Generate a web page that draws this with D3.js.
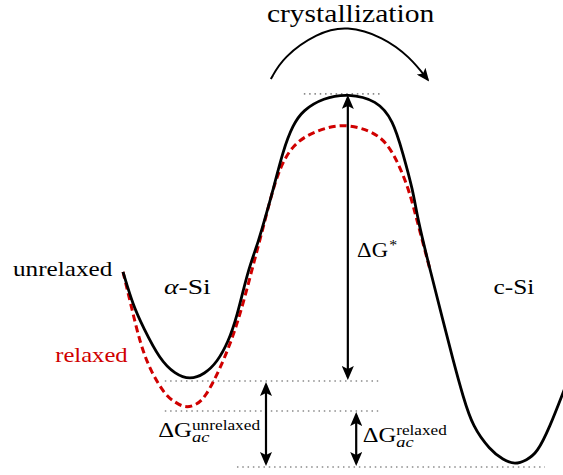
<!DOCTYPE html>
<html>
<head>
<meta charset="utf-8">
<script src="https://cdn.jsdelivr.net/npm/d3@7"></script>
<style>
body{margin:0;background:#fff;}
</style>
</head>
<body>
<script>
//svg size
var w = 563, h = 475;
var serif = "'Liberation Serif'";

//reaction coordinate (0..100) vs free energy (arb. units, 0 = c-Si minimum)
var unrelaxedCurve = [
    [0,52.2],[2.27,43.2],[4.55,37.3],[8.41,28.4],[11.8,24.6],[15.2,23.0],[18.6,24.6],
    [21.4,27.8],[23.9,33.2],[25.9,40.0],[28.4,52.7],[30.7,60.0],[32.7,68.4],[34.1,74.3],
    [36.4,85.1],[38.6,91.9],[40.9,95.9],[45.5,99.2],[51.1,100.4],[57.7,98.6],[61.4,93.2],
    [63.6,84.3],[65.9,74.3],[67.0,66.2],[69.8,52.7],[72.7,39.2],[75.0,28.4],[77.3,18.4],
    [79.5,10.3],[83.4,4.1],[86.4,1.35],[89.1,0.1],[91.75,1.35],[94.1,3.2],[97.0,10.3],
    [100,19.5],[102,25.7]
];
var relaxedCurve = [
    [0,52.2],[1.82,43.2],[3.86,33.0],[6.14,25.7],[9.55,18.9],[11.8,17.0],[14.1,15.4],
    [16.6,16.2],[18.6,18.1],[22.0,25.7],[25.9,37.3],[29.3,52.7],[32.3,66.2],[35.0,78.9],
    [38.6,87.0],[44.1,90.5],[50.0,92.3],[56.1,90.5],[60.0,87.3],[63.0,80.5],[65.2,73.5],
    [66.8,66.2],[69.8,52.7]
];
//the "crystallization" arc above the barrier
var crystArc = [[33.6,104.3],[36.4,110.3],[44.1,116.8],[50.9,118.8],[59.1,115.7],[65.2,110.3],[69.3,104.1]];

//energy levels (dotted guides)
var levelNames = ["peak","unrelaxed","relaxed","cSi"];
var levelG = [100.3, 22.7, 14.6, -0.54];
var levelFrom = [41.1, 9.5, 9.5, 25.9];
var levelTo = [58.9, 58.0, 58.0, 95.9];

//double arrows: x position, from level, to level
var arrowX = [51.1, 32.5, 53.0];
var arrowFrom = ["peak","unrelaxed","relaxed"];
var arrowTo = ["unrelaxed","cSi","cSi"];

window.onload = function(){
    var svg = d3.select("body")
        .append("svg")
        .attr("width", w)
        .attr("height", h);

    var x = d3.scaleLinear().domain([0,100]).range([123,563]);
    var y = d3.scaleLinear().domain([0,100]).range([465,95]);
    var lvl = function(n){ return levelG[levelNames.indexOf(n)]; };

    var defs = svg.append("defs");
    defs.append("marker")
        .attr("id","head")
        .attr("viewBox","0 -6 14 12")
        .attr("refX",11).attr("refY",0)
        .attr("markerWidth",14).attr("markerHeight",12)
        .attr("markerUnits","userSpaceOnUse")
        .attr("orient","auto-start-reverse")
        .append("path")
        .attr("d","M0,-6L14,0L0,6L3,0Z")
        .attr("fill","#000");
    defs.append("marker")
        .attr("id","head2")
        .attr("viewBox","0 -5.5 13 11")
        .attr("refX",11).attr("refY",0)
        .attr("markerWidth",13).attr("markerHeight",11)
        .attr("markerUnits","userSpaceOnUse")
        .attr("orient","auto")
        .append("path")
        .attr("d","M0,-5.5L13,0L0,5.5L3,0Z")
        .attr("fill","#000");

    //dotted level lines
    svg.selectAll(".level")
        .data(levelG)
        .enter()
        .append("line")
        .attr("class","level")
        .attr("x1",function(d,i){ return x(levelFrom[i]); })
        .attr("x2",function(d,i){ return x(levelTo[i]); })
        .attr("y1",function(d){ return y(d); })
        .attr("y2",function(d){ return y(d); })
        .style("stroke","#8a8a8a")
        .style("stroke-width",1.6)
        .style("stroke-dasharray","1.5,3.8");

    var line = d3.line()
        .x(function(d){ return x(d[0]); })
        .y(function(d){ return y(d[1]); })
        .curve(d3.curveBasis);

    svg.append("path")
        .datum(relaxedCurve)
        .attr("d",line)
        .style("fill","none")
        .style("stroke","#d00000")
        .style("stroke-width",3)
        .style("stroke-dasharray","7,4");

    svg.append("path")
        .datum(unrelaxedCurve)
        .attr("d",line)
        .style("fill","none")
        .style("stroke","#000")
        .style("stroke-width",2.8);

    //crystallization arc
    svg.append("path")
        .datum(crystArc)
        .attr("d",line)
        .style("fill","none")
        .style("stroke","#000")
        .style("stroke-width",2)
        .attr("marker-end","url(#head2)");

    //double headed arrows
    svg.selectAll(".darrow")
        .data(arrowX)
        .enter()
        .append("line")
        .attr("class","darrow")
        .attr("x1",function(d){ return x(d); })
        .attr("x2",function(d){ return x(d); })
        .attr("y1",function(d,i){ return y(lvl(arrowFrom[i])) + 4; })
        .attr("y2",function(d,i){ return y(lvl(arrowTo[i])) - 4; })
        .style("stroke","#000")
        .style("stroke-width",2.2)
        .attr("marker-start","url(#head)")
        .attr("marker-end","url(#head)");

    //labels are stretched horizontally to the width of the TeX original
    function fit(t, target){
        var b = t.node().getBBox();
        t.attr("transform","scale("+(target/b.width)+",1)");
        return t;
    }
    function newText(xv, gv, size){
        return svg.append("g")
            .attr("transform","translate("+x(xv)+","+y(gv)+")")
            .append("text")
            .style("font-family",serif)
            .style("font-size",size+"px")
            .style("fill","#000");
    }
    function label(xv, gv, txt, size, target){
        return fit(newText(xv, gv, size).text(txt), target);
    }
    label(32.7, 119.7, "crystallization", 25, 168);
    label(-25.0, 51.1, "unrelaxed", 21, 100);
    label(-15.4, 27.9, "relaxed", 21, 73).style("fill","#d00000");
    label(84.2, 46.2, "c-Si", 21, 41);
    var aSi = newText(9.3, 46.2, 21);
    aSi.append("tspan").style("font-style","italic").text("α");
    aSi.append("tspan").text("-Si");
    fit(aSi, 47);

    //ΔG labels in one text each: main, subscript, then superscript stacked over it
    function dG(xv, gv, sup, sub, target){
        var t = newText(xv, gv, 20);
        t.append("tspan").text("ΔG");
        if(sub){
            var sb = t.append("tspan")
                .attr("dy",5)
                .style("font-size","15px")
                .style("font-style","italic")
                .text(sub);
            var sw = sb.node().getComputedTextLength();
            t.append("tspan")
                .attr("dx",-sw).attr("dy",-12)
                .style("font-size","14px")
                .text(sup);
        } else {
            t.append("tspan")
                .attr("dx",1).attr("dy",-7)
                .style("font-size","14px")
                .text(sup);
        }
        fit(t, target);
    }
    dG(53.2, 56.2, "*", null, 40);
    dG(8.0, 7.6, "unrelaxed", "ac", 102);
    dG(54.5, 6.3, "relaxed", "ac", 84);
};
</script>
</body>
</html>
